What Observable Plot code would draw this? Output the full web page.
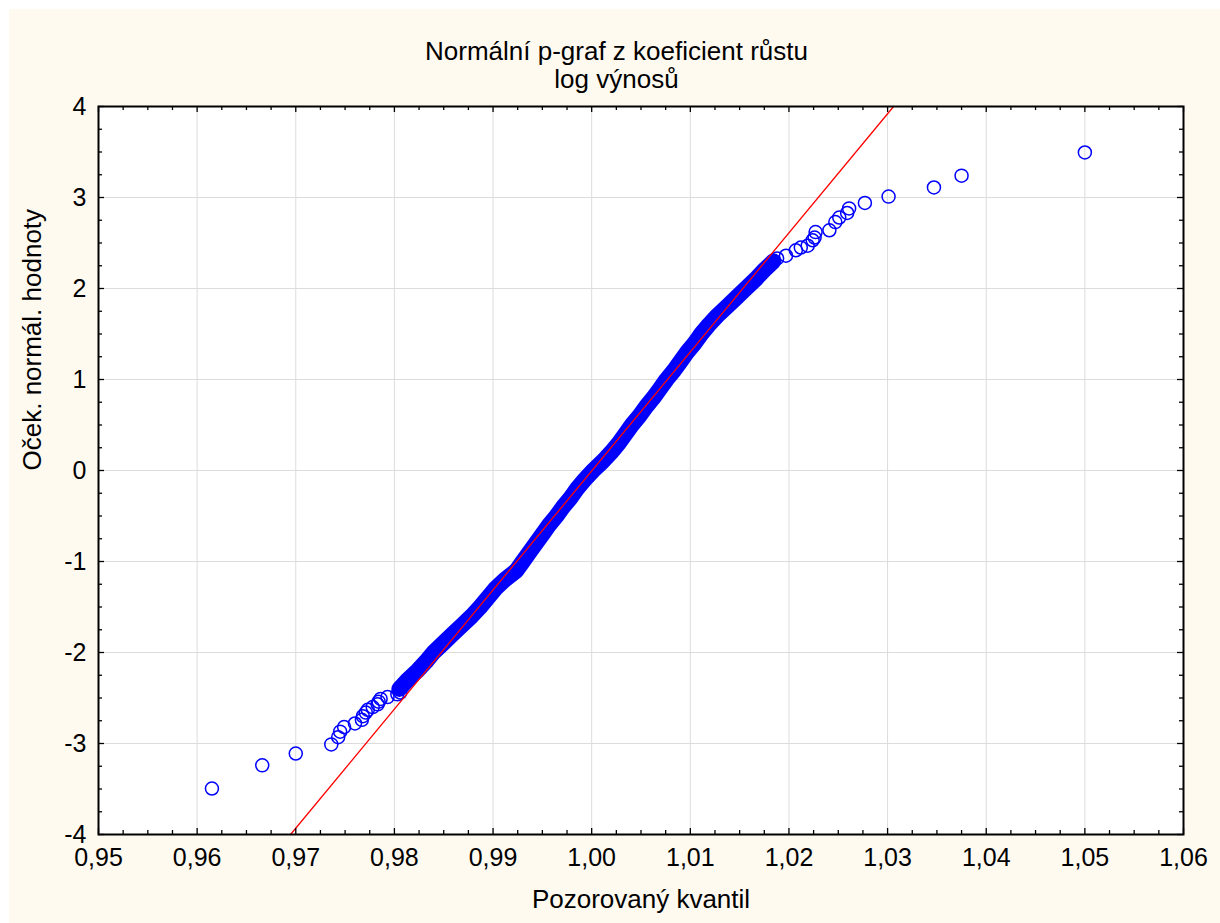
<!DOCTYPE html>
<html><head><meta charset="utf-8">
<script src="https://cdn.jsdelivr.net/npm/d3@7"></script>
<script src="https://cdn.jsdelivr.net/npm/@observablehq/plot@0.6"></script>
<style>
html,body{margin:0;padding:0;background:#fff;}
#wrap{position:relative;width:1220px;height:923px;overflow:hidden;}
#bg{position:absolute;left:9px;top:9px;right:0;bottom:0;background:#fffaf0;}
#chart{position:absolute;left:0;top:0;}
</style></head><body>
<div id="wrap"><div id="bg"></div><div id="chart"></div></div>
<script>
// ---- data ----
const titleLines = ["Normální p-graf z koeficient růstu", "log výnosů"];
const xLabel = "Pozorovaný kvantil";
const yLabel = "Oček. normál. hodnoty";
const xTicks = [0.95, 0.96, 0.97, 0.98, 0.99, 1.00, 1.01, 1.02, 1.03, 1.04, 1.05, 1.06];
const yTicks = [-4, -3, -2, -1, 0, 1, 2, 3, 4];

// lower tail (individual circles): observed quantile, expected normal value
const lowTailX = [0.9615, 0.9666, 0.9700, 0.9736, 0.9743, 0.9745, 0.9749, 0.9760, 0.9767, 0.9768, 0.9771, 0.9773, 0.9778, 0.9783, 0.9784, 0.9786, 0.9793, 0.9803, 0.9806];
const lowTailY = [-3.495, -3.24, -3.11, -3.01, -2.93, -2.87, -2.82, -2.78, -2.74, -2.70, -2.66, -2.63, -2.60, -2.57, -2.54, -2.51, -2.49, -2.46, -2.44];

// dense central band (overlapping circles)
const bandX = [0.98050, 0.98136, 0.98233, 0.98320, 0.98396, 0.98493, 0.98589, 0.98686, 0.98783, 0.98869,
               0.98946, 0.99022, 0.99119, 0.99236, 0.99302, 0.99368, 0.99434, 0.99501, 0.99567, 0.99643,
               0.99710, 0.99786, 0.99852, 0.99929, 1.00015, 1.00112, 1.00198, 1.00275, 1.00341, 1.00407,
               1.00484, 1.00550, 1.00626, 1.00693, 1.00759, 1.00835, 1.00902, 1.00968, 1.01044, 1.01110,
               1.01187, 1.01273, 1.01370, 1.01467, 1.01563, 1.01660, 1.01747, 1.01843];
const bandY = [-2.40, -2.30, -2.20, -2.10, -2.00, -1.90, -1.80, -1.70, -1.60, -1.50,
               -1.40, -1.30, -1.20, -1.10, -1.00, -0.90, -0.80, -0.70, -0.60, -0.50,
               -0.40, -0.30, -0.20, -0.10, 0.00, 0.10, 0.20, 0.30, 0.40, 0.50,
               0.60, 0.70, 0.80, 0.90, 1.00, 1.10, 1.20, 1.30, 1.40, 1.50,
               1.60, 1.70, 1.80, 1.90, 2.00, 2.10, 2.20, 2.30];

// upper tail (individual circles)
const highTailX = [1.0188, 1.0197, 1.0207, 1.0212, 1.0219, 1.0224, 1.0226, 1.0227, 1.0241, 1.0247, 1.0251, 1.0259, 1.0261, 1.0277, 1.0301, 1.0347, 1.0375, 1.0500];
const highTailY = [2.33, 2.36, 2.42, 2.45, 2.47, 2.53, 2.56, 2.62, 2.64, 2.73, 2.78, 2.83, 2.88, 2.94, 3.01, 3.11, 3.24, 3.495];

// reference (normal) line endpoints
const refLineX = [0.96947, 1.03061];
const refLineY = [-4, 4];

// ---- build ----
const zip = (xs, ys) => xs.map((x, i) => ({x, y: ys[i]}));
const band = zip(bandX, bandY);
const points = [...zip(lowTailX, lowTailY), ...band, ...zip(highTailX, highTailY)];
const refLine = zip(refLineX, refLineY);

const W = 1220, H = 923, mL = 98, mT = 106, mR = 37, mB = 89;
const fh = H - mT - mB, fw = W - mL - mR;
const font = "'Liberation Sans', Arial, sans-serif";
const fmtX = d => d.toFixed(2).replace(".", ",");
const xMinor = d3.range(0, 44).map(i => 0.95 + i * 0.0025).filter((d, i) => i % 4 !== 0);
const yMinor = d3.range(0, 32).map(i => -4 + i * 0.25).filter((d, i) => i % 4 !== 0);
const BLUE = "#0000ff", RED = "#ff0000";

const chart = Plot.plot({
  width: W, height: H,
  marginLeft: mL, marginTop: mT, marginRight: mR, marginBottom: mB,
  style: {background: "transparent", fontFamily: font, color: "black"},
  x: {domain: [0.95, 1.06], axis: null},
  y: {domain: [-4, 4], axis: null},
  marks: [
    Plot.frame({fill: "white", stroke: null}),
    Plot.ruleX(xTicks.slice(1, -1), {stroke: "#dcdcdc", strokeWidth: 1}),
    Plot.ruleY(yTicks.slice(1, -1), {stroke: "#dcdcdc", strokeWidth: 1}),
    Plot.line(band, {x: "x", y: "y", stroke: BLUE, strokeWidth: 16, strokeLinecap: "round", strokeLinejoin: "round"}),
    Plot.dot(points, {x: "x", y: "y", r: 6.5, stroke: BLUE, strokeWidth: 1.5, fill: "none"}),
    Plot.line(refLine, {x: "x", y: "y", stroke: RED, strokeWidth: 1.3}),
    // ticks pointing inward on all four sides
    Plot.ruleX(xTicks, {insetTop: fh - 6, stroke: "black", strokeWidth: 1.3}),
    Plot.ruleX(xTicks, {insetBottom: fh - 6, stroke: "black", strokeWidth: 1.3}),
    Plot.ruleX(xMinor, {insetTop: fh - 4, stroke: "black", strokeWidth: 1.3}),
    Plot.ruleX(xMinor, {insetBottom: fh - 4, stroke: "black", strokeWidth: 1.3}),
    Plot.ruleY(yTicks, {insetRight: fw - 6, stroke: "black", strokeWidth: 1.3}),
    Plot.ruleY(yTicks, {insetLeft: fw - 6, stroke: "black", strokeWidth: 1.3}),
    Plot.ruleY(yMinor, {insetRight: fw - 4, stroke: "black", strokeWidth: 1.3}),
    Plot.ruleY(yMinor, {insetLeft: fw - 4, stroke: "black", strokeWidth: 1.3}),
    Plot.frame({stroke: "black", strokeWidth: 2}),
    // tick labels
    Plot.text(xTicks, {x: d => d, frameAnchor: "bottom", dy: 31, text: fmtX, fontSize: 25, fill: "black"}),
    Plot.text(yTicks, {y: d => d, frameAnchor: "left", dx: -12, textAnchor: "end", text: d => String(d), fontSize: 25, fill: "black"}),
    // axis labels
    Plot.text([xLabel], {frameAnchor: "bottom", dy: 73, fontSize: 26, fill: "black"}),
    Plot.text([yLabel], {frameAnchor: "left", dx: -66, rotate: -90, fontSize: 26, fill: "black"}),
    // title
    Plot.text([titleLines[0]], {frameAnchor: "top", dx: -24.5, dy: -65, fontSize: 26, fill: "black"}),
    Plot.text([titleLines[1]], {frameAnchor: "top", dx: -24.5, dy: -37, fontSize: 26, fill: "black"})
  ]
});
document.getElementById("chart").appendChild(chart);
</script>
</body></html>
